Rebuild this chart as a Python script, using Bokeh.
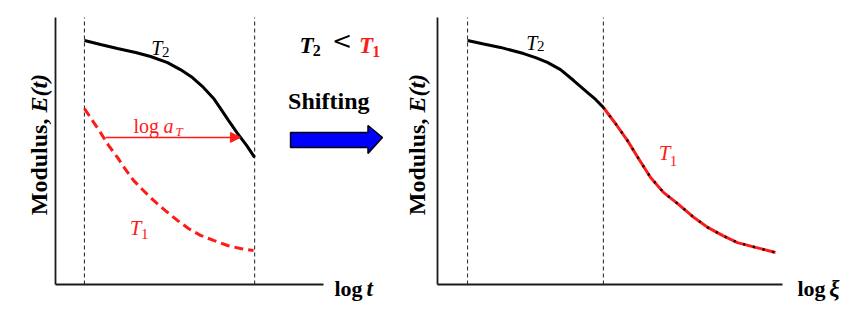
from bokeh.plotting import figure
from bokeh.layouts import row
from bokeh.models import Range1d, LinearAxis, FixedTicker, Arrow, NormalHead, Grid
from bokeh.core.properties import value
from bokeh.embed import file_html
from bokeh.resources import INLINE

# ---------------- data (arbitrary schematic units) -------------
# left panel: modulus vs log t
left_T2_t = [1.08, 1.68, 2.31, 2.99, 3.55, 4.18, 4.66, 5.11, 5.52, 5.90, 6.16, 6.46, 6.79, 7.13, 7.43]
left_T2_E = [9.14, 8.99, 8.84, 8.69, 8.54, 8.31, 8.05, 7.75, 7.38, 6.97, 6.59, 6.14, 5.66, 5.21, 4.76]
left_T1_t = [1.08, 1.38, 1.68, 1.98, 2.31, 2.61, 2.91, 3.28, 3.66, 4.10, 4.55, 4.96, 5.41, 5.90, 6.42, 6.90, 7.39]
left_T1_E = [6.59, 6.14, 5.69, 5.21, 4.76, 4.31, 3.90, 3.52, 3.15, 2.77, 2.40, 2.10, 1.84, 1.65, 1.46, 1.35, 1.27]
left_window = [1.08, 7.43]          # dashed verticals (log t)
shift_from, shift_to, shift_level = 1.87, 6.90, 5.51   # log a_T arrow

# right panel: master curve vs log xi
right_T2_x = [1.12, 1.72, 2.35, 3.21, 3.66, 4.10, 4.59, 5.08, 5.60, 5.90, 6.19]
right_T2_E = [9.14, 9.01, 8.88, 8.65, 8.50, 8.32, 8.05, 7.64, 7.19, 6.93, 6.63]
right_T1_x = [6.19, 6.64, 7.09, 7.50, 7.95, 8.43, 8.96, 9.52, 10.08, 10.63, 11.19, 11.87, 12.61]
right_T1_E = [6.63, 6.03, 5.39, 4.72, 4.01, 3.45, 3.03, 2.55, 2.14, 1.84, 1.57, 1.39, 1.20]
right_window = [1.12, 6.19]

AXIS_LEN_X_LEFT = 10.0
AXIS_LEN_X_RIGHT = 12.87
AXIS_LEN_Y = 10.0

SERIF = value("Liberation Serif")
RED = "#ff1a1a"


def base_fig(width, xr, yr):
    p = figure(width=width, height=311, x_range=Range1d(*xr), y_range=Range1d(*yr),
               output_backend="svg", toolbar_location=None, min_border=0,
               x_axis_location=None, y_axis_location=None,
               outline_line_color=None, background_fill_color="white",
               border_fill_color="white")
    for g in p.select(type=Grid):
        g.visible = False
    return p


def add_axes(p, xmax, ymax):
    common = dict(ticker=FixedTicker(ticks=[]), major_tick_line_color=None,
                  minor_tick_line_color=None, major_label_text_font_size="0px",
                  axis_line_color="#1a1a1a", axis_line_width=1.8,
                  major_tick_out=0, major_tick_in=0, major_label_standoff=0)
    xa = LinearAxis(fixed_location=0, bounds=(0, xmax), **common)
    ya = LinearAxis(fixed_location=0, bounds=(0, ymax), **common)
    p.add_layout(xa, "below")
    p.add_layout(ya, "left")


def txt(p, x, y, s, size, style="normal", color="black", align="left",
        baseline="alphabetic", angle=0, font=SERIF):
    p.text(x=[x], y=[y], text=[s], text_font=font, text_font_size=size,
           text_font_style=style, text_color=color, text_align=align,
           text_baseline=baseline, angle=angle)


def ylabel(p, x, y):
    txt(p, x, y, "Modulus, ", "24px", "bold", align="right", angle=1.5707963)
    txt(p, x, y, "E(t)", "24px", "bold italic", align="left", angle=1.5707963)


# ---------------- left figure (also holds the middle annotations) ----------------
pl = base_fig(400, (-2.052, 12.873), (-1.011, 10.637))
add_axes(pl, AXIS_LEN_X_LEFT, AXIS_LEN_Y)
pl.segment(x0=left_window, y0=[0, 0], x1=left_window, y1=[AXIS_LEN_Y] * 2,
           line_color="#333333", line_width=1.1, line_dash="4 3")
pl.line(left_T2_t, left_T2_E, line_color="black", line_width=3)
pl.line(left_T1_t, left_T1_E, line_color=RED, line_width=3, line_dash="9 5")
pl.add_layout(Arrow(end=NormalHead(size=10, fill_color=RED, line_color=RED),
                    x_start=shift_from, y_start=shift_level, x_end=shift_to, y_end=shift_level,
                    line_color=RED, line_width=1.5))

txt(pl, 3.99, 8.84, "T", "20px", "italic", align="right")
txt(pl, 3.97, 8.69, "2", "15px")
txt(pl, 2.91, 5.955, "log", "20px", color=RED)
txt(pl, 4.03, 5.955, "a", "20px", "italic", color=RED)
txt(pl, 4.48, 5.73, "T", "13px", "italic", color=RED)
txt(pl, 3.21, 2.135, "T", "21px", "italic", color=RED, align="right")
txt(pl, 3.19, 1.91, "1", "15px", color=RED)
txt(pl, 10.41, -0.15, "log", "22px", "bold")
txt(pl, 11.60, -0.15, "t", "23px", "bold italic")
ylabel(pl, -0.63, 6.44)

# middle: T2 < T1, Shifting, blue arrow
txt(pl, 9.63, 8.95, "T", "23px", "bold italic", align="right")
txt(pl, 9.60, 8.76, "2", "16px", "bold")
txt(pl, 10.32, 9.12, "<", "24px", baseline="middle", font=value("DejaVu Serif"))
txt(pl, 11.85, 8.95, "T", "23px", "bold italic", color=RED, align="right")
txt(pl, 11.82, 8.73, "1", "16px", "bold", color=RED)
txt(pl, 8.68, 6.89, "Shifting", "24px", "bold")
arrow_x = [8.77, 11.66, 11.66, 12.20, 11.66, 11.66, 8.77]
arrow_y = [5.693, 5.693, 5.955, 5.506, 4.906, 5.131, 5.131]
pl.patch(arrow_x, arrow_y, fill_color="#0000ff", line_color="black", line_width=1.5)

# ---------------- right figure ----------------
pr = base_fig(460, (-1.381, 15.784), (-1.011, 10.637))
add_axes(pr, AXIS_LEN_X_RIGHT, AXIS_LEN_Y)
pr.segment(x0=right_window, y0=[0, 0], x1=right_window, y1=[AXIS_LEN_Y] * 2,
           line_color="#333333", line_width=1.1, line_dash="4 3")
pr.line(right_T2_x, right_T2_E, line_color="black", line_width=3)
pr.line(right_T1_x, right_T1_E, line_color=RED, line_width=3)
pr.line(right_T1_x, right_T1_E, line_color="black", line_width=2.5, line_dash="2 8")

txt(pr, 3.73, 9.06, "T", "20px", "italic", align="right")
txt(pr, 3.71, 8.93, "2", "15px")
txt(pr, 8.69, 4.91, "T", "21px", "italic", color=RED, align="right")
txt(pr, 8.67, 4.64, "1", "15px", color=RED)
txt(pr, 13.43, -0.15, "log", "22px", "bold")
txt(pr, 14.62, -0.15, "\u03be", "23px", "bold italic")
ylabel(pr, -0.75, 6.44)

layout = row(pl, pr, spacing=0)
open("out.html", "w").write(file_html(layout, INLINE))
